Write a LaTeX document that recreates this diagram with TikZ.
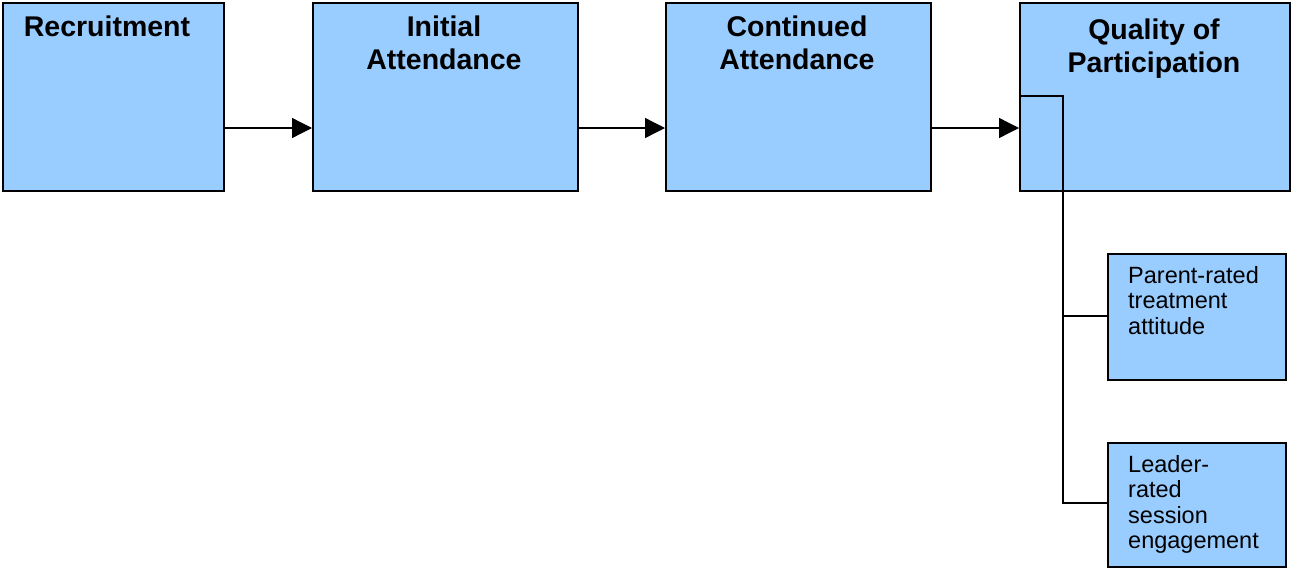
\documentclass[tikz,border=0pt]{standalone}
\usepackage{fontspec}
\setmainfont{Liberation Sans}
\usetikzlibrary{arrows.meta}
\definecolor{boxblue}{HTML}{99CCFF}
\tikzset{
  stage/.style={draw=black, line width=1.6pt, fill=boxblue, anchor=north west, inner sep=0pt},
  title/.style={font=\bfseries\fontsize{28.5}{33}\selectfont, align=center, anchor=base, inner sep=0pt},
  small/.style={font=\fontsize{23.5}{25.5}\selectfont, align=left, anchor=base west, inner sep=0pt},
  flow/.style={line width=1.3pt, -{Triangle[length=20pt,width=20pt]}},
  link/.style={line width=1.6pt},
}
\begin{document}
\begin{tikzpicture}[x=1pt,y=-1pt]
\useasboundingbox (0,0) rectangle (1291,568);
\node[stage, minimum width=221pt, minimum height=188pt] (rec) at (2,2) {};
\node[stage, minimum width=265pt, minimum height=188pt] (init) at (312,2) {};
\node[stage, minimum width=265pt, minimum height=188pt] (cont) at (665,2) {};
\node[stage, minimum width=270pt, minimum height=188pt] (qual) at (1019,2) {};
\node[stage, minimum width=178pt, minimum height=126pt] (par) at (1107,253) {};
\node[stage, minimum width=178pt, minimum height=124pt] (lead) at (1107,442) {};

\node[title] (trec) at (107,36) {Recruitment};
\node[title] (tinit) at (444,69) {Initial\\Attendance};
\node[title] (tcont) at (797,69) {Continued\\Attendance};
\node[title] (tqual) at (1154,72) {Quality of\\Participation};
\node[small] (tpar) at (1128,334) {Parent-rated\\treatment\\attitude};
\node[small] (tlead) at (1128,548.5) {Leader-\\rated\\session\\engagement};

\draw[flow] (rec.east |- 0,128) -- (init.west |- 0,128);
\draw[flow] (init.east |- 0,128) -- (cont.west |- 0,128);
\draw[flow] (cont.east |- 0,128) -- (qual.west |- 0,128);

\coordinate (qa) at (qual.west |- 0,96);
\coordinate (trunk) at (1063,96);
\draw[link] (qa) -- (trunk) -- (trunk |- 0,503) -- (lead.west |- 0,503);
\draw[link] (trunk |- 0,316) -- (par.west |- 0,316);
\end{tikzpicture}
\end{document}
